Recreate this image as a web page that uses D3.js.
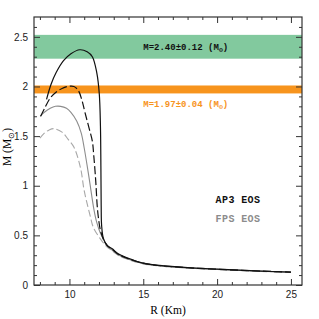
<!DOCTYPE html>
<html>
<head>
<meta charset="utf-8">
<script src="https://cdn.jsdelivr.net/npm/d3@7"></script>
<style>
  body { margin: 0; background: #fff; }
  svg { display: block; }
  .tick text { font-family: "Liberation Sans", Arial, sans-serif; font-size: 10px; fill: #222; }
</style>
</head>
<body>
<div class="canvas"></div>
<script>
// mass-radius curves
const ap3SolidR = [8.45, 8.75, 9.1, 9.6, 10.1, 10.7, 11.2, 11.55, 11.85, 12.02, 12.1, 12.13, 12.15, 12.18, 12.3, 12.55, 12.9, 13.3, 13.9, 15, 16.1, 18, 20, 23, 25];
const ap3SolidM = [1.87, 2.02, 2.14, 2.26, 2.33, 2.37, 2.35, 2.30, 2.14, 1.93, 1.6, 1.2, 0.8, 0.6, 0.47, 0.4, 0.365, 0.315, 0.275, 0.22, 0.197, 0.175, 0.16, 0.14, 0.13];

const ap3DashR = [8.05, 8.35, 8.73, 9.07, 9.5, 9.9, 10.3, 10.6, 10.85, 11.05, 11.33, 11.55, 11.65, 11.78, 11.88, 11.96, 12.1, 12.3, 12.6, 12.9, 13.3, 13.9, 15, 16.1, 18, 20, 23, 25];
const ap3DashM = [1.70, 1.79, 1.89, 1.94, 1.98, 2.0, 2.0, 1.96, 1.86, 1.74, 1.58, 1.45, 1.3, 1.05, 0.8, 0.68, 0.55, 0.46, 0.39, 0.36, 0.31, 0.27, 0.22, 0.196, 0.174, 0.159, 0.14, 0.13];

const fpsSolidR = [8.02, 8.3, 8.7, 9.05, 9.4, 9.8, 10.1, 10.5, 10.8, 11.0, 11.33, 11.66, 11.85, 12.1, 12.5, 12.9, 13.3, 13.9, 15, 16.1, 18, 20, 23, 25];
const fpsSolidM = [1.70, 1.74, 1.78, 1.80, 1.80, 1.78, 1.74, 1.65, 1.53, 1.38, 1.08, 0.76, 0.63, 0.52, 0.41, 0.35, 0.305, 0.265, 0.215, 0.193, 0.172, 0.157, 0.138, 0.128];

const fpsDashR = [8.0, 8.3, 8.6, 8.95, 9.5, 9.9, 10.3, 10.75, 11.0, 11.4, 11.62, 12.07, 12.5, 12.9, 13.3, 13.9, 15, 16.1, 18, 20, 23, 25];
const fpsDashM = [1.48, 1.53, 1.56, 1.575, 1.54, 1.47, 1.39, 1.18, 0.95, 0.7, 0.58, 0.47, 0.39, 0.345, 0.3, 0.262, 0.213, 0.192, 0.171, 0.156, 0.137, 0.128];

// observed mass bands
const bandNames = ["M=2.40\u00b10.12 (M", "M=1.97\u00b10.04 (M"];
const bandCenter = [2.40, 1.97];
const bandError = [0.12, 0.04];
const bandColor = ["#82c99e", "#f7941d"];
const bandTextColor = ["#111", "#f7941d"];

const xMajor = [10, 15, 20, 25];
const yMajor = [0, 0.5, 1, 1.5, 2, 2.5];

const dims = { width: 319, height: 319 };
const margin = { left: 34, top: 17, right: 17, bottom: 34 };
const inner = { w: dims.width - margin.left - margin.right, h: dims.height - margin.top - margin.bottom };

const svg = d3.select(".canvas").append("svg")
  .attr("width", dims.width).attr("height", dims.height);

const graph = svg.append("g").attr("transform", `translate(${margin.left}, ${margin.top})`);

const x = d3.scaleLinear().domain([7.6, 25.75]).range([0, inner.w]);
const y = d3.scaleLinear().domain([0, 2.7]).range([inner.h, 0]);

// bands
graph.selectAll("rect.band").data(bandCenter).enter().append("rect")
  .attr("class", "band")
  .attr("x", 0).attr("width", inner.w)
  .attr("y", (d, i) => y(d + bandError[i]))
  .attr("height", (d, i) => y(d - bandError[i]) - y(d + bandError[i]))
  .attr("fill", (d, i) => bandColor[i]);

// band labels
const labY = [2.40, 1.82];
bandNames.forEach((name, i) => {
  const t = graph.append("text")
    .attr("x", x(15.0)).attr("y", y(labY[i]) + 3)
    .attr("fill", bandTextColor[i])
    .style("font-family", "'Liberation Mono', 'DejaVu Sans Mono', monospace")
    .style("font-weight", "bold").style("font-size", "9px");
  t.append("tspan").text(name);
  t.append("tspan").attr("dy", 2).style("font-size", "6.5px").text("\u2299");
  t.append("tspan").attr("dy", -2).text(")");
});

// curves
const line = d3.line().x(d => x(d[0])).y(d => y(d[1])).curve(d3.curveCatmullRom.alpha(0.5));
const curves = [
  { R: fpsDashR, M: fpsDashM, color: "#a8a8a8", dash: "7,3", w: 1.1 },
  { R: fpsSolidR, M: fpsSolidM, color: "#8c8c8c", dash: null, w: 1.1 },
  { R: ap3DashR, M: ap3DashM, color: "#111", dash: "8,3", w: 1.2 },
  { R: ap3SolidR, M: ap3SolidM, color: "#111", dash: null, w: 1.2 }
];
curves.forEach(c => {
  graph.append("path")
    .datum(c.R.map((r, i) => [r, c.M[i]]))
    .attr("d", line)
    .attr("fill", "none")
    .attr("stroke", c.color)
    .attr("stroke-width", c.w)
    .attr("stroke-dasharray", c.dash);
});

// axes, ticks on all sides pointing inward
const xMinor = d3.range(8, 26, 1).filter(v => !xMajor.includes(v));
const yMinor = d3.range(0, 27, 1).map(v => v / 10).filter(v => !yMajor.some(m => Math.abs(m - v) < 1e-9));

const addAxis = (axisFn, scale, vals, size, labels, transform) => {
  const g = graph.append("g").attr("transform", transform)
    .call(axisFn(scale).tickValues(vals).tickSize(size).tickPadding(labels ? 8 : 0)
      .tickFormat(labels ? d3.format("") : ""));
  g.select(".domain").remove();
  g.selectAll(".tick line").attr("stroke", "#333").attr("stroke-width", 1);
  return g;
};

const bottom = addAxis(d3.axisBottom, x, xMajor, -6, true, `translate(0, ${inner.h})`);
bottom.selectAll(".tick text").attr("dy", "0.9em").attr("y", 4);
addAxis(d3.axisBottom, x, xMinor, -3, false, `translate(0, ${inner.h})`);
addAxis(d3.axisTop, x, xMajor, -6, false, "translate(0, 0)");
addAxis(d3.axisTop, x, xMinor, -3, false, "translate(0, 0)");
const left = addAxis(d3.axisLeft, y, yMajor, -6, true, "translate(0, 0)");
left.selectAll(".tick text").attr("x", -6);
addAxis(d3.axisLeft, y, yMinor, -3, false, "translate(0, 0)");
addAxis(d3.axisRight, y, yMajor, -6, false, `translate(${inner.w}, 0)`);
addAxis(d3.axisRight, y, yMinor, -3, false, `translate(${inner.w}, 0)`);

graph.append("rect").attr("width", inner.w).attr("height", inner.h)
  .attr("fill", "none").attr("stroke", "#333").attr("stroke-width", 1.2);

// legend text
const legendNames = ["AP3 EOS", "FPS EOS"];
const legendColor = ["#111", "#8c8c8c"];
legendNames.forEach((n, i) => {
  graph.append("text")
    .attr("x", x(19.9)).attr("y", y(0.83 - i * 0.2))
    .attr("fill", legendColor[i])
    .style("font-family", "'Liberation Mono', 'DejaVu Sans Mono', monospace")
    .style("font-weight", "bold").style("font-size", "10px")
    .style("letter-spacing", "0.4px")
    .text(n);
});

// axis titles
svg.append("text")
  .attr("x", margin.left + inner.w / 2).attr("y", 314)
  .attr("text-anchor", "middle")
  .style("font-family", "'Liberation Serif', serif").style("font-size", "11.5px")
  .text("R (Km)");

const yt = svg.append("text")
  .attr("transform", `translate(11, 147) rotate(-90)`)
  .attr("text-anchor", "middle")
  .style("font-family", "'Liberation Serif', serif").style("font-size", "11.5px");
yt.append("tspan").text("M (M");
yt.append("tspan").attr("dy", 3).style("font-size", "8px").text("\u2299");
yt.append("tspan").attr("dy", -3).text(")");
</script>
</body>
</html>
